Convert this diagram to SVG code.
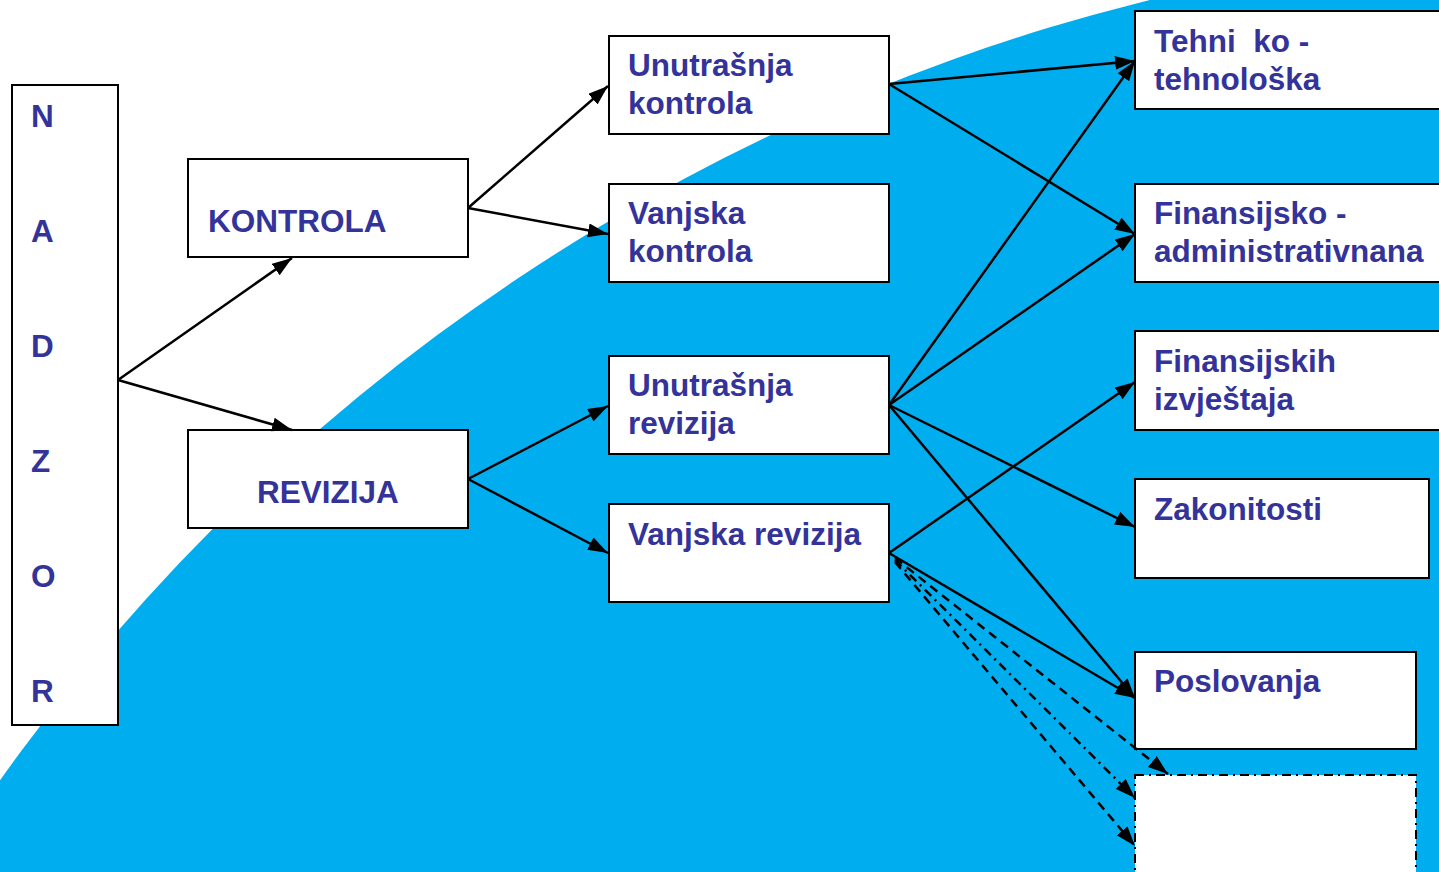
<svg xmlns="http://www.w3.org/2000/svg" width="1439" height="872" viewBox="0 0 1439 872">
<style>
.box{fill:#fff;stroke:#000;stroke-width:2}
.t{font-family:"Liberation Sans",Arial,sans-serif;font-weight:bold;font-size:31.5px;fill:#333399;white-space:pre}
.c{fill:none;stroke:#000;stroke-width:2.5;marker-end:url(#ah)}
.dash{stroke-dasharray:9,6}
.dashdot{stroke-dasharray:9,5,2,5}
</style>
<defs>
<marker id="ah" markerUnits="userSpaceOnUse" markerWidth="22" markerHeight="16" refX="20" refY="7" orient="auto">
<path d="M0,0 L20,7 L0,14 z" fill="#000"/>
</marker>
</defs>
<rect width="1439" height="872" fill="#fff"/>
<circle cx="1628" cy="1942" r="2000" fill="#00AEEF"/>

<g id="nadzor">
<rect class="box" x="12" y="85" width="106" height="640"/>
<text class="t" x="31" y="127">N</text>
<text class="t" x="31" y="242">A</text>
<text class="t" x="31" y="357">D</text>
<text class="t" x="31" y="472">Z</text>
<text class="t" x="31" y="587">O</text>
<text class="t" x="31" y="702">R</text>
</g>
<g id="kontrola">
<rect class="box" x="188" y="159" width="280" height="98"/>
<text class="t" x="208" y="232">KONTROLA</text>
</g>
<g id="revizija">
<rect class="box" x="188" y="430" width="280" height="98"/>
<text class="t" x="257" y="503">REVIZIJA</text>
</g>
<g id="unutrasnja-kontrola">
<rect class="box" x="609" y="36" width="280" height="98"/>
<text class="t" x="628" y="76">Unutrašnja</text>
<text class="t" x="628" y="114">kontrola</text>
</g>
<g id="vanjska-kontrola">
<rect class="box" x="609" y="184" width="280" height="98"/>
<text class="t" x="628" y="224">Vanjska</text>
<text class="t" x="628" y="262">kontrola</text>
</g>
<g id="unutrasnja-revizija">
<rect class="box" x="609" y="356" width="280" height="98"/>
<text class="t" x="628" y="396">Unutrašnja</text>
<text class="t" x="628" y="434">revizija</text>
</g>
<g id="vanjska-revizija">
<rect class="box" x="609" y="504" width="280" height="98"/>
<text class="t" x="628" y="545">Vanjska revizija</text>
</g>
<g id="tehnicko">
<rect class="box" x="1135" y="11" width="310" height="98"/>
<text class="t" x="1154" y="52">Tehni  ko -</text>
<text class="t" x="1154" y="90">tehnološka</text>
</g>
<g id="finansijsko">
<rect class="box" x="1135" y="184" width="310" height="98"/>
<text class="t" x="1154" y="224">Finansijsko -</text>
<text class="t" x="1154" y="262">administrativnana</text>
</g>
<g id="finansijskih">
<rect class="box" x="1135" y="331" width="310" height="99"/>
<text class="t" x="1154" y="372">Finansijskih</text>
<text class="t" x="1154" y="410">izvještaja</text>
</g>
<g id="zakonitosti">
<rect class="box" x="1135" y="479" width="294" height="99"/>
<text class="t" x="1154" y="520">Zakonitosti</text>
</g>
<g id="poslovanja">
<rect class="box" x="1135" y="652" width="281" height="97"/>
<text class="t" x="1154" y="692">Poslovanja</text>
</g>
<g id="prazno">
<rect x="1135" y="775" width="281" height="120" fill="#fff" stroke="#000" stroke-width="2" stroke-dasharray="9,5,2,5"/>
</g>

<g id="connectors">
<line class="c" x1="118" y1="380" x2="292" y2="258"/>
<line class="c" x1="118" y1="380" x2="292" y2="430"/>
<line class="c" x1="468" y1="208" x2="608" y2="86"/>
<line class="c" x1="468" y1="208" x2="608" y2="234"/>
<line class="c" x1="468" y1="479" x2="608" y2="406"/>
<line class="c" x1="468" y1="479" x2="608" y2="553"/>
<line class="c" x1="889" y1="84" x2="1135" y2="61"/>
<line class="c" x1="889" y1="84" x2="1135" y2="234"/>
<line class="c" x1="889" y1="405" x2="1135" y2="61"/>
<line class="c" x1="889" y1="405" x2="1135" y2="234"/>
<line class="c" x1="889" y1="405" x2="1135" y2="527"/>
<line class="c" x1="889" y1="405" x2="1135" y2="698"/>
<line class="c" x1="889" y1="553" x2="1135" y2="382"/>
<line class="c" x1="889" y1="553" x2="1135" y2="698"/>
<line class="c dash" x1="895" y1="558" x2="1168" y2="774"/>
<line class="c dashdot" x1="895" y1="560" x2="1135" y2="798"/>
<line class="c dash" x1="895" y1="562" x2="1135" y2="846"/>
</g>
</svg>
